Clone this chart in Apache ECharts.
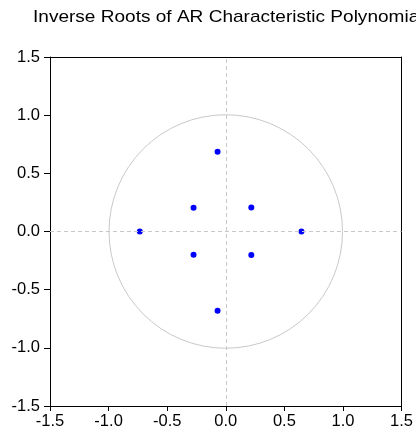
<!DOCTYPE html>
<html>
<head>
<meta charset="utf-8">
<script src="https://cdn.jsdelivr.net/npm/echarts@6/dist/echarts.min.js"></script>
<style>
  html, body { margin: 0; padding: 0; background: #fff; }
  #chart { width: 416px; height: 435px; }
</style>
</head>
<body>
<div id="chart"></div>
<script>
  var rootsRe = [-0.07, -0.07, -0.275, -0.275, 0.218, 0.218, -0.734, 0.646];
  var rootsIm = [0.685, -0.682, 0.204, -0.2, 0.206, -0.203, 0, 0];
  var tickVals = [-1.5, -1.0, -0.5, 0.0, 0.5, 1.0, 1.5];
  var unitRadius = 1;

  var points = rootsRe.map(function (re, i) { return [re, rootsIm[i]]; });

  var chart = echarts.init(document.getElementById('chart'));
  var font = 'Liberation Sans, Arial, sans-serif';

  var axisBase = {
    type: 'value',
    min: tickVals[0],
    max: tickVals[tickVals.length - 1],
    interval: 0.5,
    splitLine: { show: false },
    axisLine: { show: true, onZero: false, lineStyle: { color: '#000', width: 1 } },
    axisTick: { show: true, length: 6, inside: false, lineStyle: { color: '#000' } },
    axisLabel: {
      color: '#000', fontSize: 16.5, fontFamily: font,
      formatter: function (v) { return v.toFixed(1); }
    }
  };

  var option = {
    animation: false,
    graphic: [{
      type: 'text',
      x: 33, y: 9,
      scaleX: 1.12,
      style: {
        text: 'Inverse Roots of AR Characteristic Polynomial',
        fill: '#000', fontSize: 17, fontFamily: font
      }
    }],
    grid: { left: 50, right: 13, top: 57, bottom: 29 },
    xAxis: [
      Object.assign({}, axisBase, {
        position: 'bottom',
        axisTick: Object.assign({}, axisBase.axisTick, { length: 5 }),
        axisLabel: Object.assign({}, axisBase.axisLabel, { margin: 7 })
      }),
      Object.assign({}, axisBase, { position: 'top', axisTick: { show: false }, axisLabel: { show: false } })
    ],
    yAxis: [
      Object.assign({}, axisBase, { position: 'left', axisLabel: Object.assign({}, axisBase.axisLabel, { margin: 10 }) }),
      Object.assign({}, axisBase, { position: 'right', axisTick: { show: false }, axisLabel: { show: false } })
    ],
    series: [
      {
        // unit circle + zero lines, drawn under the roots
        type: 'custom',
        data: [[0, 0, unitRadius]],
        silent: true,
        renderItem: function (params, api) {
          var c = api.coord([api.value(0), api.value(1)]);
          var s = api.size([api.value(2), api.value(2)]);
          return {
            type: 'circle',
            shape: { cx: c[0], cy: c[1], r: (s[0] + s[1]) / 2 },
            style: { fill: 'none', stroke: '#c8c8c8', lineWidth: 1 }
          };
        },
        z: 1,
        markLine: {
          silent: true,
          symbol: 'none',
          label: { show: false },
          lineStyle: { color: '#c8c8c8', type: [4, 3], width: 1 },
          data: [{ xAxis: 0 }, { yAxis: 0 }]
        }
      },
      {
        type: 'scatter',
        data: points,
        symbolSize: 6,
        itemStyle: { color: '#0000ff', opacity: 1 },
        z: 3
      }
    ]
  };
  chart.setOption(option);
</script>
</body>
</html>
